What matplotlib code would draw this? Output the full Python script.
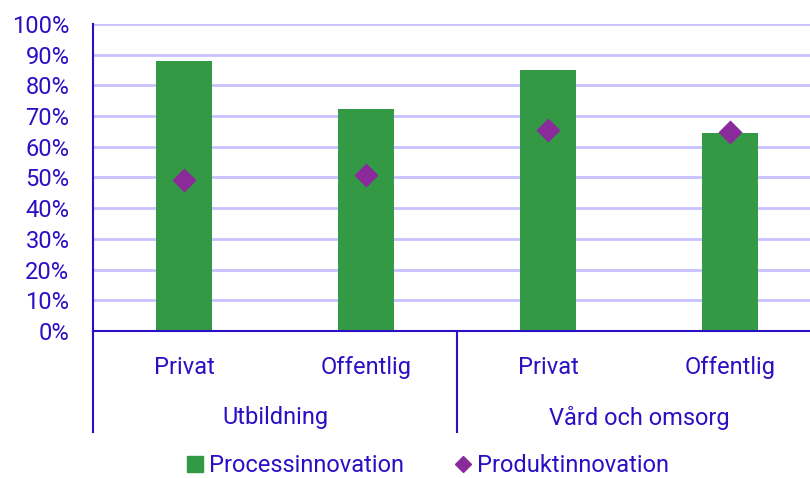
import numpy as np
import matplotlib
matplotlib.use('Agg')
import matplotlib.pyplot as plt
from matplotlib.lines import Line2D

# data
sectors = ['Utbildning', 'Vård och omsorg']
owners = ['Privat', 'Offentlig', 'Privat', 'Offentlig']
process = [88, 72.3, 85, 64.5]
product = [49.2, 50.8, 65.5, 64.8]

TXT = '#2a10c4'
GREEN = '#339944'
PURPLE = '#8b2a9b'
GRID = '#c8c0ff'
FS = 17

plt.rcParams['font.family'] = ['Roboto', 'DejaVu Sans']

fig = plt.figure(figsize=(8.10, 4.78), dpi=100)
ax = fig.add_axes([93 / 810, 147 / 478, 728 / 810, 307 / 478])

x = np.arange(len(owners))
ax.bar(x, process, width=0.31, color=GREEN, zorder=2)
ax.scatter(x, product, marker='D', s=150, color=PURPLE, zorder=3, linewidths=0)

ax.set_xlim(-0.5, 3.5)
ax.set_ylim(0, 100)
ax.set_yticks(np.arange(0, 101, 10))
ax.set_yticklabels([f'{v}%' for v in range(0, 101, 10)], fontsize=FS, color=TXT)
ax.yaxis.grid(True, color=GRID, linewidth=2, zorder=0)
ax.tick_params(axis='y', length=0, pad=17)
ax.tick_params(axis='x', length=0)
ax.set_xticks([])

for s in ['top', 'right']:
    ax.spines[s].set_visible(False)
for s in ['left', 'bottom']:
    ax.spines[s].set_color(TXT)
    ax.spines[s].set_linewidth(1.5)

trans = ax.get_xaxis_transform()
# owner labels
for xi, lab in zip(x, owners):
    ax.text(xi, -0.12, lab, transform=trans, ha='center', va='center',
            fontsize=FS, color=TXT)
# sector labels
for i, lab in enumerate(sectors):
    ax.text(2 * i + 0.5, -0.282, lab, transform=trans, ha='center', va='center',
            fontsize=FS, color=TXT)
# group separator lines
for xs in [-0.5, 1.5]:
    ax.add_line(Line2D([xs, xs], [0, -0.33], transform=trans, color=TXT,
                       linewidth=1.5, clip_on=False))

handles = [
    Line2D([], [], marker='s', linestyle='none', color=GREEN, markersize=12),
    Line2D([], [], marker='D', linestyle='none', color=PURPLE, markersize=8),
]
leg = fig.legend(handles, ['Processinnovation', 'Produktinnovation'], ncol=2,
                 loc='center', bbox_to_anchor=(0.526, 12 / 478), frameon=False,
                 fontsize=FS, handletextpad=0.1, columnspacing=2.0,
                 handlelength=1.0, borderpad=0.2)
for t in leg.get_texts():
    t.set_color(TXT)

fig.savefig('out.png', dpi=100)
